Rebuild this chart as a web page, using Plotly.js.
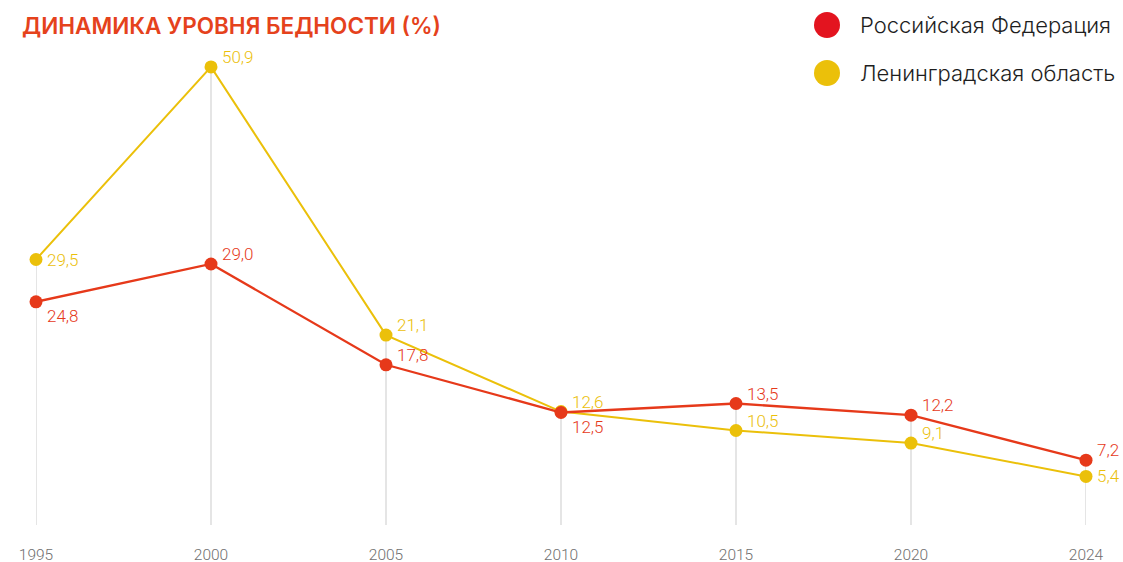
<!DOCTYPE html>
<html>
<head>
<meta charset="utf-8">
<script src="https://cdn.plot.ly/plotly-3.0.1.min.js"></script>
<style>
html,body{margin:0;padding:0;background:#fff;}
#chart{width:1123px;height:562px;}
</style>
</head>
<body>
<div id="chart"></div>
<script>
// ---- data ----
const years = ['1995', '2000', '2005', '2010', '2015', '2020', '2024'];
const russia = [24.8, 29.0, 17.8, 12.5, 13.5, 12.2, 7.2];
const leningrad = [29.5, 50.9, 21.1, 12.6, 10.5, 9.1, 5.4];
const seriesNames = ['Российская Федерация', 'Ленинградская область'];
const titleText = 'ДИНАМИКА УРОВНЯ БЕДНОСТИ (%)';
// label placement (style)
const russiaLabelPos = ['below', 'above', 'above', 'below', 'above', 'above', 'above'];
const leningradLabelPos = ['middle', 'above', 'above', 'above', 'above', 'above', 'middle'];

// ---- style ----
const RED = '#e6391a';
const RED_LEG = '#e3141f';
const YEL = '#ebc00a';
const GRID = '#dcdcdc';
const valueFont = 'Roboto, "Liberation Sans", sans-serif';
const geoFont = 'Inter, "Noto Sans", sans-serif';

const fmt = v => v.toFixed(1).replace('.', ',');
const shiftFor = p => p === 'above' ? 10 : (p === 'below' ? -14 : 0);

const traces = [
  {
    x: years, y: leningrad, type: 'scatter', mode: 'lines+markers',
    name: seriesNames[1],
    line: {color: YEL, width: 2},
    marker: {color: YEL, size: 13},
    cliponaxis: false, hoverinfo: 'x+y'
  },
  {
    x: years, y: russia, type: 'scatter', mode: 'lines+markers',
    name: seriesNames[0],
    line: {color: RED, width: 2.3},
    marker: {color: RED, size: 13},
    cliponaxis: false, hoverinfo: 'x+y'
  }
];

// vertical guide lines: category index i on the category axis
const shapes = years.map((yr, i) => ({
  type: 'line', layer: 'below', xref: 'x', yref: 'y',
  x0: i, x1: i, y0: 0, y1: Math.max(russia[i], leningrad[i]),
  line: {color: GRID, width: 1.5}
}));

const annotations = [];
function addLabels(vals, pos, color) {
  vals.forEach((v, i) => {
    annotations.push({
      x: i, y: v, xref: 'x', yref: 'y', text: fmt(v), showarrow: false,
      xanchor: 'left', yanchor: 'middle', xshift: 9, yshift: shiftFor(pos[i]),
      font: {family: valueFont, size: 17, color: color, weight: 300}
    });
  });
}
addLabels(russia, russiaLabelPos, RED);
addLabels(leningrad, leningradLabelPos, YEL);

// custom legend
const legendItems = [
  {name: seriesNames[0], color: RED_LEG, py: 25},
  {name: seriesNames[1], color: YEL, py: 73}
];
const plotTop = 20, plotBottom = 525, plotLeft = 36, plotW = 1050;
legendItems.forEach(it => {
  const yp = (plotBottom - it.py) / (plotBottom - plotTop);
  shapes.push({
    type: 'circle', xref: 'paper', yref: 'paper',
    xsizemode: 'pixel', ysizemode: 'pixel',
    xanchor: (827 - plotLeft) / plotW, yanchor: yp,
    x0: -13, x1: 13, y0: -13, y1: 13,
    fillcolor: it.color, line: {width: 0}
  });
  annotations.push({
    xref: 'paper', yref: 'paper', x: (858 - plotLeft) / plotW, y: yp,
    xanchor: 'left', yanchor: 'middle', showarrow: false, text: it.name,
    font: {family: geoFont, size: 22, color: '#1e1e1e', weight: 300}
  });
});

const layout = {
  width: 1123, height: 562,
  paper_bgcolor: '#fff', plot_bgcolor: '#fff',
  margin: {l: plotLeft, r: 1123 - plotLeft - plotW, t: plotTop, b: 562 - plotBottom},
  showlegend: false,
  separators: ', ',
  title: {
    text: titleText, xref: 'container', yref: 'container',
    x: 22 / 1123, xanchor: 'left', y: 1 - 26 / 562, yanchor: 'middle',
    font: {family: geoFont, size: 22.5, color: '#e5421c', weight: 600}
  },
  xaxis: {
    type: 'category', range: [0, 6], showgrid: false, zeroline: false,
    showline: false, ticks: '', ticklabelstandoff: 18,
    tickfont: {family: valueFont, size: 15.5, color: '#6f6f6f', weight: 300}
  },
  yaxis: {
    range: [0, 505 / 9], showgrid: false, zeroline: false, showline: false,
    showticklabels: false, ticks: ''
  },
  shapes: shapes,
  annotations: annotations
};

Plotly.newPlot('chart', traces, layout, {displayModeBar: false});
</script>
</body>
</html>
